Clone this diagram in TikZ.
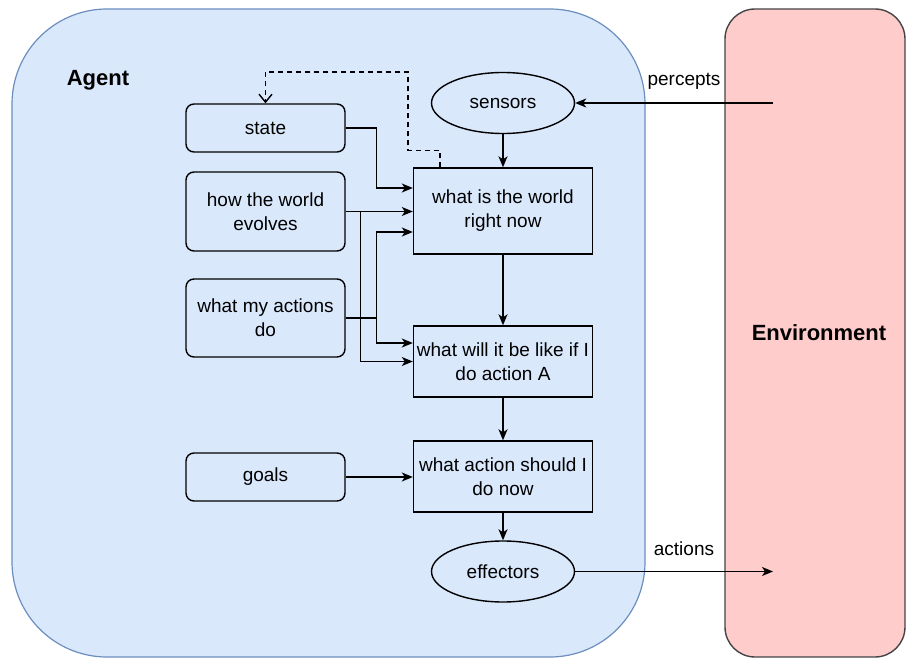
\documentclass[tikz,border=0pt]{standalone}
\usepackage{fontspec}
\setmainfont{Liberation Sans}
\usetikzlibrary{arrows.meta,shapes.geometric}
\definecolor{agentfill}{HTML}{DAE8FC}
\definecolor{agentline}{HTML}{6C8EBF}
\definecolor{envfill}{HTML}{FFCCCC}
\definecolor{envline}{HTML}{444444}

\begin{document}
\begin{tikzpicture}[x=1pt, y=-1pt, line width=1.4pt,
        font=\fontsize{19}{24}\selectfont,
        box/.style = {draw, align=center, minimum width=179pt, inner sep=0pt},
        rbox/.style = {draw, rounded corners=8pt, align=center, minimum width=159pt, inner sep=0pt},
        oval/.style = {draw, ellipse, minimum width=143pt, minimum height=61pt, inner sep=0pt},
        title/.style = {font=\fontsize{22}{26}\selectfont\bfseries},
        arr/.style = {-{Stealth[length=11pt,width=9pt,inset=3pt]}},
        dsh/.style = {dash pattern=on 5pt off 4pt, -{Straight Barb[length=8pt,width=13pt]}}]
                \useasboundingbox (0,0) rectangle (906,658);
                % agent and environment
                \draw[fill=agentfill, draw=agentline, line width=1.2pt, rounded corners=95pt] (12,9) rectangle (645,657);
                \draw[fill=envfill, draw=envline, line width=1.4pt, rounded corners=30pt] (725,9) rectangle (905,657);
                \node[title] (A) at (98,80) {Agent};
                \node[title] (E) at (819,333) {Environment};

                \node[oval] (1) at (503,103) {sensors};
                \node[rbox, minimum height=48pt] (2) at (265.5,128) {state};
                \node[rbox, minimum height=79pt] (3) at (265.5,211.5) {how the world\\evolves};
                \node[rbox, minimum height=78pt] (4) at (265.5,318) {what my actions\\do};
                \node[rbox, minimum height=48pt] (5) at (265.5,477) {goals};
                \node[box, minimum height=86pt] (6) at (503,211) {what is the world\\right now};
                \node[box, minimum height=71pt] (7) at (503,361.5) {what will it be like if I\\do action A};
                \node[box, minimum height=71pt] (8) at (503,476.5) {what action should I\\do now};
                \node[oval] (9) at (503,571.5) {effectors};
                \coordinate (p) at (773,103);
                \coordinate (a) at (773,571.5);

                \draw[arr] (1) -- (6);
                \draw[dsh] ([xshift=-63pt]6.north) -- ++(0,-17) -| (408,72) -| (2.north);
                \draw[arr] (2.east) -- ++(31,0) |- ([yshift=23pt]6.west);
                \draw[arr] (3.east) -- (3.east -| 6.west);
                \draw[arr] ([xshift=15pt]3.east) |- (7.west);
                \draw[arr] (4.east) -- ++(31,0) |- ([yshift=-21pt]6.west);
                \draw[arr] ([xshift=31pt]4.east) |- ([yshift=18.5pt]7.west);
                \draw[arr] (6) -- (7);
                \draw[arr] (7) -- (8);
                \draw[arr] (5.east) -- (5.east -| 8.west);
                \draw[arr] (8) -- (9);
                \draw[arr] (p) -- (1) node[pos=0.45, above=10pt] {percepts};
                \draw[arr] (9) -- (a) node[pos=0.55, above=12pt] {actions};
            \end{tikzpicture}
\end{document}
